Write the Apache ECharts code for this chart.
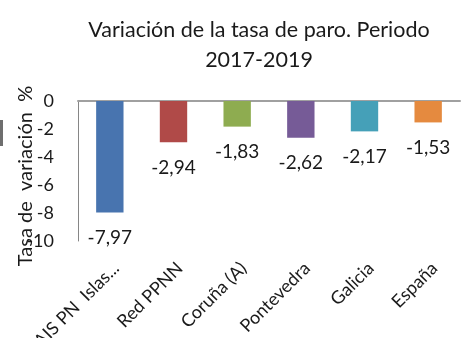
<!DOCTYPE html>
<html>
<head>
<meta charset="utf-8">
<script src="https://cdn.jsdelivr.net/npm/echarts@6/dist/echarts.min.js"></script>
<style>
  html, body { margin: 0; padding: 0; background: #fff; }
  #chart { width: 463px; height: 338px; }
</style>
</head>
<body>
<div id="chart"></div>
<script>
// Unemployment-rate change by area, 2017-2019
const categories = ['AIS PN  Islas...', 'Red PPNN', 'Coruña (A)', 'Pontevedra', 'Galicia', 'España'];
const values = [-7.97, -2.94, -1.83, -2.62, -2.17, -1.53];
const barColors = ['#4874AF', '#B04A48', '#8EAC50', '#765B97', '#45A0B8', '#E58A3F'];
const yTicks = [0, -2, -4, -6, -8, -10];

const FONT = 'Lato';
const TEXT = '#1a1a1a';
const fmt = v => v.toFixed(2).replace('.', ',');

const chart = echarts.init(document.getElementById('chart'), null, { renderer: 'canvas' });

chart.setOption({
  animation: false,
  textStyle: { fontFamily: FONT },
  title: {
    text: 'Variación de la tasa de paro. Periodo\n2017-2019',
    left: 254,
    top: 10,
    textAlign: 'center',
    textStyle: { fontFamily: FONT, fontSize: 21.5, fontWeight: 'normal', color: TEXT, lineHeight: 30 }
  },
  grid: { left: 78, right: 3, top: 101, bottom: 97, containLabel: false, outerBoundsMode: 'none' },
  xAxis: [
    {
      // category labels sit below the plot
      type: 'category',
      data: categories,
      position: 'bottom',
      axisLine: { show: false },
      axisTick: { show: false },
      axisLabel: {
        interval: 0,
        rotate: 45,
        margin: 18,
        verticalAlign: 'top',
        lineHeight: 18,
        fontFamily: FONT,
        fontSize: 18,
        color: TEXT
      }
    },
    {
      // baseline at zero, along the top of the plot
      type: 'category',
      data: categories,
      position: 'top',
      axisLine: { show: true, onZero: false, lineStyle: { color: '#A0A0A0', width: 2 } },
      axisTick: { show: false },
      axisLabel: { show: false }
    }
  ],
  yAxis: {
    type: 'value',
    min: -10,
    max: 0,
    interval: 2,
    name: 'Tasa de  variación  %',
    nameLocation: 'middle',
    nameGap: 42,
    nameMoveOverlap: false,
    nameRotate: 90,
    nameTextStyle: { fontFamily: FONT, fontSize: 20, color: TEXT, padding: [0, 10, 0, 0] },
    axisLine: { show: true, lineStyle: { color: '#868686', width: 1 } },
    axisTick: { show: false },
    splitLine: { show: false },
    axisLabel: {
      margin: 24,
      fontFamily: FONT,
      fontSize: 18,
      color: TEXT,
      formatter: v => (yTicks.includes(v) ? String(v) : '')
    }
  },
  series: [{
    type: 'bar',
    xAxisIndex: 0,
    barWidth: '43%',
    data: values.map((v, i) => ({ value: v, itemStyle: { color: barColors[i] } })),
    label: {
      show: true,
      position: 'bottom',
      distance: 16,
      fontFamily: FONT,
      fontSize: 19,
      color: TEXT,
      formatter: p => fmt(p.value)
    }
  }],
  graphic: [{
    type: 'rect',
    shape: { x: 0, y: 120, width: 3, height: 26 },
    style: { fill: '#6e6e6e' }
  }]
});
</script>
</body>
</html>
